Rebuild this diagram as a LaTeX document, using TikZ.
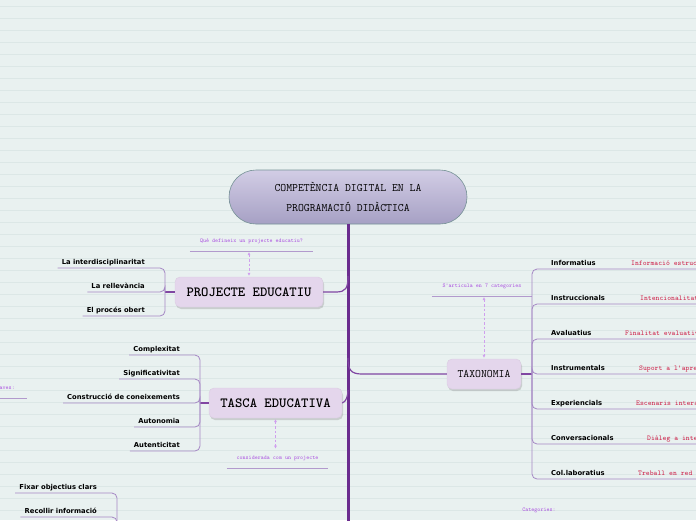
\documentclass[tikz,border=0pt]{standalone}
\usepackage{fontspec}
\usetikzlibrary{arrows.meta,shadows}
\newfontfamily\itemfont{DejaVu Sans}
\definecolor{mmbg}{RGB}{233,241,240}
\definecolor{mmrule}{RGB}{220,231,230}
\definecolor{mmtrunk}{RGB}{106,44,142}
\definecolor{mmbranch}{RGB}{128,70,162}
\definecolor{mmbrk}{RGB}{165,136,196}
\definecolor{mmnote}{RGB}{170,80,224}
\definecolor{mmred}{RGB}{206,32,72}
\definecolor{mmfill}{RGB}{228,214,236}
\definecolor{mmtop}{RGB}{210,205,229}
\definecolor{mmbot}{RGB}{166,160,196}
\definecolor{mmedge}{RGB}{118,146,150}

\begin{document}
\begin{tikzpicture}[x=1pt,y=-1pt,
  hub/.style={rounded corners=27pt,minimum width=238pt,minimum height=54pt,
    top color=mmtop,bottom color=mmbot,draw=mmedge,line width=0.6pt,align=center,
    font=\ttfamily\fontsize{11.4}{20}\selectfont},
  topic/.style={rounded corners=5pt,fill=mmfill,draw=mmfill!90!gray,minimum height=30pt,
    inner sep=0pt,drop shadow={opacity=0.3,shadow xshift=1pt,shadow yshift=-2pt},
    font=\ttfamily\bfseries\fontsize{14}{14}\selectfont},
  item/.style={font=\itemfont\bfseries\fontsize{6.8}{7}\selectfont,inner xsep=4pt,
    inner ysep=0pt,text height=5pt,text depth=3pt,anchor=south east},
  ritem/.style={item,anchor=south west},
  detail/.style={font=\ttfamily\fontsize{7.3}{7}\selectfont,text=mmred,inner sep=0pt,
    text height=5pt,text depth=3pt,anchor=south west},
  note/.style={font=\ttfamily\fontsize{5.7}{6}\selectfont,text=mmnote,anchor=south,
    minimum height=18pt,inner sep=0pt},
  noteline/.style={draw=mmbrk!85,line width=0.8pt},
  brk/.style={draw=mmbrk,line width=0.8pt,rounded corners=5pt},
  conn/.style={draw=mmbranch,line width=1.2pt},
  twoway/.style={draw=mmnote!55,line width=0.8pt,dash pattern=on 2.5pt off 2pt,
    {Latex[length=3pt,width=3pt]}-{Latex[length=3pt,width=3pt]},shorten <=1pt,shorten >=1pt}]

  \useasboundingbox (0,0) rectangle (696,520);
  \clip (0,0) rectangle (696,520);
  \fill[mmbg] (0,0) rectangle (696,520);
  \foreach \y in {6,18,...,520}
    \draw[mmrule,line width=0.6pt] (0,\y) -- (696,\y);

  % central topic and trunk
  \node[hub] (comp) at (348,197) {COMPETÈNCIA DIGITAL EN LA\\PROGRAMACIÓ DIDÀCTICA};
  \coordinate (trunkend) at (348,530);
  \draw[mmtrunk,line width=3pt] (comp.south) -- (trunkend);

  % projecte educatiu
  \node[topic,minimum width=148pt] (proj) at (249,292) {PROJECTE EDUCATIU};
  \coordinate (tp) at (348,276);
  \draw[conn] (proj.east) -- (336,292) .. controls (346,292) and (348,288) .. (tp);
  \node[note,minimum width=123pt] (qdef) at (251.5,251) {Què defineix un projecte educatiu?};
  \draw[noteline] (qdef.south west) -- (qdef.south east);
  \draw[twoway] (proj.north |- qdef.south) -- (proj.north);
  \coordinate (projbr) at (165,292);
  \draw[conn] (proj.west) -- (projbr);
  \foreach \name/\txt/\y in {a/La interdisciplinaritat/268,b/La rellevància/292,c/El procés obert/316}{
    \node[item] (pr\name) at (149,\y) {\txt};
    \draw[brk] (projbr) |- (pr\name.south west);
  }

  % tasca educativa
  \node[topic,minimum width=133pt] (tasca) at (275.5,403) {TASCA EDUCATIVA};
  \coordinate (tt) at (348,390);
  \draw[conn] (tasca.east) .. controls (346,402) and (348,396) .. (tt);
  \node[note,minimum width=101pt] (considerada) at (277.5,468) {considerada com un projecte};
  \draw[noteline] (considerada.south west) -- (considerada.south east);
  \draw[twoway] (tasca.south) -- (tasca.south |- considerada.north);
  \coordinate (tascabr) at (200,403);
  \draw[conn] (tasca.west) -- (tascabr);
  \foreach \name/\txt/\y in {a/Complexitat/355,b/Significativitat/379,
      c/Construcció de coneixements/403,d/Autonomia/427,e/Autenticitat/451}{
    \node[item] (ta\name) at (184,\y) {\txt};
    \draw[brk] (tascabr) |- (ta\name.south west);
  }
  \node[note,anchor=south east,minimum height=20pt,inner xsep=12pt] (claves) at (27,398) {Paraules claves:};
  \draw[noteline] (claves.south west) -- (claves.south east);

  % fixar objectius
  \coordinate (fixbr) at (117,540);
  \foreach \name/\txt/\y in {a/Fixar objectius clars/493,b/Recollir informació/517}{
    \node[item] (fx\name) at (101,\y) {\txt};
    \draw[brk] (fixbr) |- (fx\name.south west);
  }

  % taxonomia
  \node[topic,font=\ttfamily\fontsize{11.4}{12}\selectfont,minimum width=74pt] (taxo) at (484,374) {TAXONOMIA};
  \coordinate (tx) at (348,358);
  \draw[conn] (tx) .. controls (348,370) and (351,374) .. (362,374) -- (taxo.west);
  \node[note,minimum width=100pt] (articula) at (482,296) {S'articula en 7 categories};
  \draw[noteline] (articula.south west) -- (articula.south east);
  \draw[twoway] (taxo.north |- articula.south) -- (taxo.north);
  \coordinate (taxbr) at (532,374);
  \draw[conn] (taxo.east) -- (taxbr);
  \foreach \name/\txt/\y/\rx/\det in {a/Informatius/269/631/Informació estructurada,
      b/Instruccionals/304/640/Intencionalitat,
      c/Avaluatius/339/625/Finalitat evaluativa,
      d/Instrumentals/374/639/Suport a l'aprenentatge,
      e/Experiencials/409/636/Escenaris interactius,
      f/Conversacionals/444/647/Diàleg a internet,
      g/Col.laboratius/479/638/Treball en red}{
    \node[ritem] (tx\name) at (547,\y) {\txt};
    \draw[brk] (taxbr) |- (tx\name.south west) -- ++(160,0);
    \node[detail] (dt\name) at (\rx,\y) {\det};
  }
  \node[note] (categories) at (539,520) {Categories:};
\end{tikzpicture}
\end{document}
